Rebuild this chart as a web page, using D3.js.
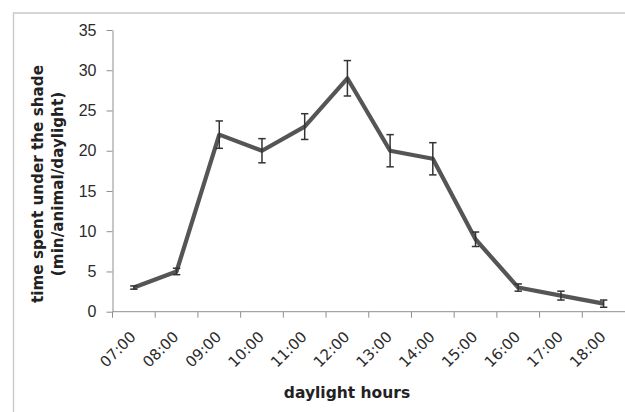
<!doctype html>
<html lang="en">
<head>
<meta charset="utf-8">
<title>time spent under the shade</title>
<script src="https://d3js.org/d3.v7.min.js"></script>
<style>
  body { margin: 0; background: #fff; }
  svg { display: block; font-family: "DejaVu Sans", Verdana, sans-serif; }
</style>
</head>
<body>
<svg id="chart" width="625" height="412"></svg>
<script>
// data
var hours = ["07:00", "08:00", "09:00", "10:00", "11:00", "12:00",
             "13:00", "14:00", "15:00", "16:00", "17:00", "18:00"];
var shadeTime = [3, 5, 22, 20, 23, 29, 20, 19, 9, 3, 2, 1];
var shadeErr = [0.2, 0.4, 1.7, 1.5, 1.6, 2.2, 2, 2, 0.9, 0.45, 0.55, 0.45];
var yTicks = [0, 5, 10, 15, 20, 25, 30, 35];

var svg = d3.select("#chart");

// outer frame (only the left and top edges show)
svg.append("path")
  .attr("d", "M13.5,412 V13 H625")
  .attr("fill", "none")
  .attr("stroke", "#c9c9c9")
  .attr("stroke-width", 1.4);

var x = d3.scaleBand().domain(hours).range([112.5, 625]).padding(0);
var y = d3.scaleLinear().domain([0, 35]).range([311.7, 30]);

// y axis
var yAxis = svg.append("g")
  .attr("transform", "translate(112.5,0)")
  .call(d3.axisLeft(y).tickValues(yTicks).tickSize(6).tickPadding(10).tickSizeOuter(0));
yAxis.select(".domain").attr("stroke", "#8f8f8f");
yAxis.selectAll(".tick line").attr("stroke", "#8f8f8f");
yAxis.selectAll("text").attr("font-size", 16).attr("fill", "#2b2b2b");

// x axis: ticks at category boundaries
var xAxis = svg.append("g").attr("transform", "translate(0," + y(0) + ")");
xAxis.append("line")
  .attr("x1", 112.5).attr("x2", 625)
  .attr("stroke", "#8f8f8f");
xAxis.selectAll(".tk")
  .data(hours)
  .enter().append("line")
  .attr("class", "tk")
  .attr("x1", d => x(d)).attr("x2", d => x(d))
  .attr("y1", 0).attr("y2", 6)
  .attr("stroke", "#8f8f8f");
xAxis.selectAll(".lbl")
  .data(hours)
  .enter().append("text")
  .attr("class", "lbl")
  .attr("transform", d => "translate(" + (x(d) + x.bandwidth() / 2 + 3) + ",26) rotate(-45)")
  .attr("text-anchor", "end")
  .attr("font-size", 15)
  .attr("fill", "#2b2b2b")
  .text(d => d);

// axis titles
svg.append("text")
  .attr("x", 347).attr("y", 398)
  .attr("text-anchor", "middle")
  .attr("font-size", 15.5)
  .attr("font-weight", "bold")
  .attr("fill", "#222")
  .text("daylight hours");

var yTitle = svg.append("text")
  .attr("transform", "translate(0,184) rotate(-90)")
  .attr("text-anchor", "middle")
  .attr("font-size", 15.2)
  .attr("font-weight", "bold")
  .attr("fill", "#222");
yTitle.append("tspan").attr("x", 0).attr("y", 43).text("time spent under the shade");
yTitle.append("tspan").attr("x", 0).attr("y", 63).text("(min/animal/daylight)");

var pts = hours.map((h, i) => ({ h: h, v: shadeTime[i], e: shadeErr[i] }));
var cx = d => x(d.h) + x.bandwidth() / 2;

// the series line
svg.append("path")
  .datum(pts)
  .attr("fill", "none")
  .attr("stroke", "#555")
  .attr("stroke-width", 4.2)
  .attr("stroke-linejoin", "round")
  .attr("d", d3.line().x(cx).y(d => y(d.v)));

// error bars
var eb = svg.append("g")
  .attr("stroke", "#333")
  .attr("stroke-width", 1.5)
  .selectAll("g")
  .data(pts)
  .enter().append("g");
eb.append("line")
  .attr("x1", cx).attr("x2", cx)
  .attr("y1", d => y(d.v + d.e)).attr("y2", d => y(d.v - d.e));
eb.append("line")
  .attr("x1", d => cx(d) - 3.7).attr("x2", d => cx(d) + 3.7)
  .attr("y1", d => y(d.v + d.e)).attr("y2", d => y(d.v + d.e));
eb.append("line")
  .attr("x1", d => cx(d) - 3.7).attr("x2", d => cx(d) + 3.7)
  .attr("y1", d => y(d.v - d.e)).attr("y2", d => y(d.v - d.e));
</script>
</body>
</html>
